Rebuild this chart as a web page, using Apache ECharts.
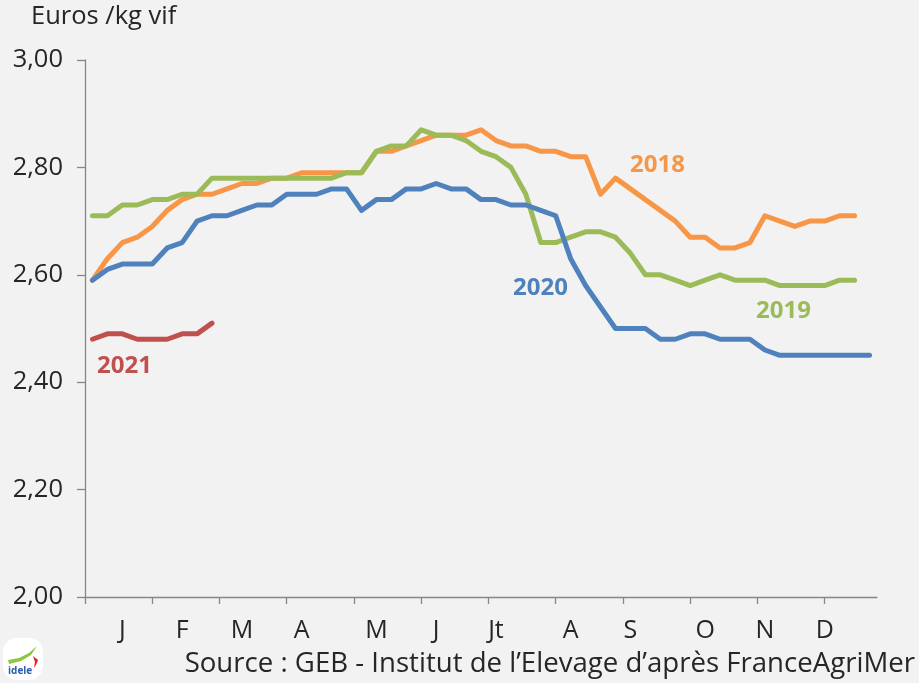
<!DOCTYPE html>
<html>
<head>
<meta charset="utf-8">
<script src="https://cdn.jsdelivr.net/npm/echarts@6/dist/echarts.min.js"></script>
<style>
  html, body { margin: 0; padding: 0; background: #f2f2f2; }
  #chart { width: 919px; height: 683px; }
</style>
</head>
<body>
<div id="chart"></div>
<script>
// semaines de l'année (53), lettre du mois sur la semaine du milieu
var weekLabels = ['', '', 'J', '', '', '', 'F', '', '', '', 'M', '', '', '', 'A', '', '', '', '', 'M',
  '', '', '', 'J', '', '', '', 'Jt', '', '', '', '', 'A', '', '', '', 'S', '', '', '', '',
  'O', '', '', '', 'N', '', '', '', 'D', '', '', ''];
// séparateurs de mois (en semaines)
var monthTicks = [0, 4.5, 9, 13.5, 18, 22.5, 27, 31.5, 36, 40.5, 45, 49.5];

var yTicks = [2.0, 2.2, 2.4, 2.6, 2.8, 3.0];

var price2018 = [2.59, 2.63, 2.66, 2.67, 2.69, 2.72, 2.74, 2.75, 2.75, 2.76, 2.77, 2.77, 2.78, 2.78, 2.79, 2.79,
  2.79, 2.79, 2.79, 2.83, 2.83, 2.84, 2.85, 2.86, 2.86, 2.86, 2.87, 2.85, 2.84, 2.84, 2.83, 2.83, 2.82, 2.82,
  2.75, 2.78, 2.76, 2.74, 2.72, 2.70, 2.67, 2.67, 2.65, 2.65, 2.66, 2.71, 2.70, 2.69, 2.70, 2.70, 2.71, 2.71];
var price2019 = [2.71, 2.71, 2.73, 2.73, 2.74, 2.74, 2.75, 2.75, 2.78, 2.78, 2.78, 2.78, 2.78, 2.78, 2.78, 2.78,
  2.78, 2.79, 2.79, 2.83, 2.84, 2.84, 2.87, 2.86, 2.86, 2.85, 2.83, 2.82, 2.80, 2.75, 2.66, 2.66, 2.67, 2.68,
  2.68, 2.67, 2.64, 2.60, 2.60, 2.59, 2.58, 2.59, 2.60, 2.59, 2.59, 2.59, 2.58, 2.58, 2.58, 2.58, 2.59, 2.59];
var price2020 = [2.59, 2.61, 2.62, 2.62, 2.62, 2.65, 2.66, 2.70, 2.71, 2.71, 2.72, 2.73, 2.73, 2.75, 2.75, 2.75,
  2.76, 2.76, 2.72, 2.74, 2.74, 2.76, 2.76, 2.77, 2.76, 2.76, 2.74, 2.74, 2.73, 2.73, 2.72, 2.71, 2.63, 2.58,
  2.54, 2.50, 2.50, 2.50, 2.48, 2.48, 2.49, 2.49, 2.48, 2.48, 2.48, 2.46, 2.45, 2.45, 2.45, 2.45, 2.45, 2.45, 2.45];
var price2021 = [2.48, 2.49, 2.49, 2.48, 2.48, 2.48, 2.49, 2.49, 2.51];

var years = ['2018', '2019', '2020', '2021'];
var colors = ['#F79646', '#9BBB59', '#4F81BD', '#C0504D'];
var prices = [price2018, price2019, price2020, price2021];

var font = '"Open Sans", "Noto Sans", sans-serif';
var textColor = '#262626';

var chart = echarts.init(document.getElementById('chart'), null, { renderer: 'canvas' });

var series = [];
for (var i = 0; i < years.length; i++) {
  series.push({
    name: years[i],
    type: 'line',
    xAxisIndex: 0,
    data: prices[i],
    symbol: 'none',
    lineStyle: { color: colors[i], width: 5, cap: 'round', join: 'round' },
    itemStyle: { color: colors[i] }
  });
}

// étiquettes des années posées à la main comme dans l'original
var yearText = [
  { text: '2018', left: 630, top: 153 },
  { text: '2019', left: 756, top: 299 },
  { text: '2020', left: 513, top: 276 },
  { text: '2021', left: 97, top: 354 }
];

var option = {
  backgroundColor: '#f2f2f2',
  animation: false,
  title: {
    text: 'Euros /kg vif',
    left: 31,
    top: 4,
    padding: 0,
    textStyle: { fontFamily: font, fontSize: 25.5, fontWeight: 'normal', color: textColor }
  },
  grid: { left: 85, right: 42, top: 60, bottom: 86, containLabel: false },
  xAxis: [{
    type: 'category',
    position: 'bottom',
    data: weekLabels,
    boundaryGap: true,
    axisLine: { show: true, lineStyle: { color: '#868686', width: 1.3 } },
    axisTick: { show: false },
    axisLabel: { interval: 0, margin: 21, fontFamily: font, fontSize: 25, color: textColor },
    splitLine: { show: false }
  }, {
    type: 'value',
    position: 'bottom',
    min: 0,
    max: weekLabels.length,
    axisLine: { show: false },
    axisTick: { show: true, length: 7, customValues: monthTicks, lineStyle: { color: '#868686', width: 1.3 } },
    axisLabel: { show: false },
    splitLine: { show: false }
  }],
  yAxis: {
    type: 'value',
    min: yTicks[0],
    max: yTicks[yTicks.length - 1],
    interval: 0.2,
    axisLine: { show: true, lineStyle: { color: '#868686', width: 1.3 } },
    axisTick: { show: true, length: 8, lineStyle: { color: '#868686', width: 1.3 } },
    axisLabel: {
      margin: 22,
      fontFamily: font, fontSize: 25.5, color: textColor,
      formatter: function (v) { return v.toFixed(2).replace('.', ','); }
    },
    splitLine: { show: false }
  },
  series: series,
  graphic: yearText.map(function (t, i) {
    return {
      type: 'text', left: t.left, top: t.top,
      style: { text: t.text, fill: colors[i], font: 'bold 24px ' + font }
    };
  }).concat([{
    type: 'text', right: 4, top: 650,
    style: { text: 'Source : GEB - Institut de l\u2019Elevage d\u2019apr\u00e8s FranceAgriMer', fill: textColor, font: '27.6px ' + font }
  }, {
    // petit logo idele
    type: 'group', left: 3, top: 638,
    children: [
      { type: 'rect', shape: { x: 0, y: 0, width: 40, height: 42, r: 14 }, style: { fill: '#ffffff' } },
      { type: 'polygon', shape: { points: [[5, 22], [16, 20], [26, 15], [34, 8], [28, 17], [18, 23], [6, 26]] }, style: { fill: '#8dc63f' } },
      { type: 'polygon', shape: { points: [[30, 18], [35, 22], [33, 27], [31, 30], [32, 24]] }, style: { fill: '#e2231a' } },
      { type: 'text', left: 5, top: 28, style: { text: 'idele', fill: '#2a5caa', font: 'bold 10px ' + font } }
    ]
  }])
};

chart.setOption(option);
</script>
</body>
</html>
